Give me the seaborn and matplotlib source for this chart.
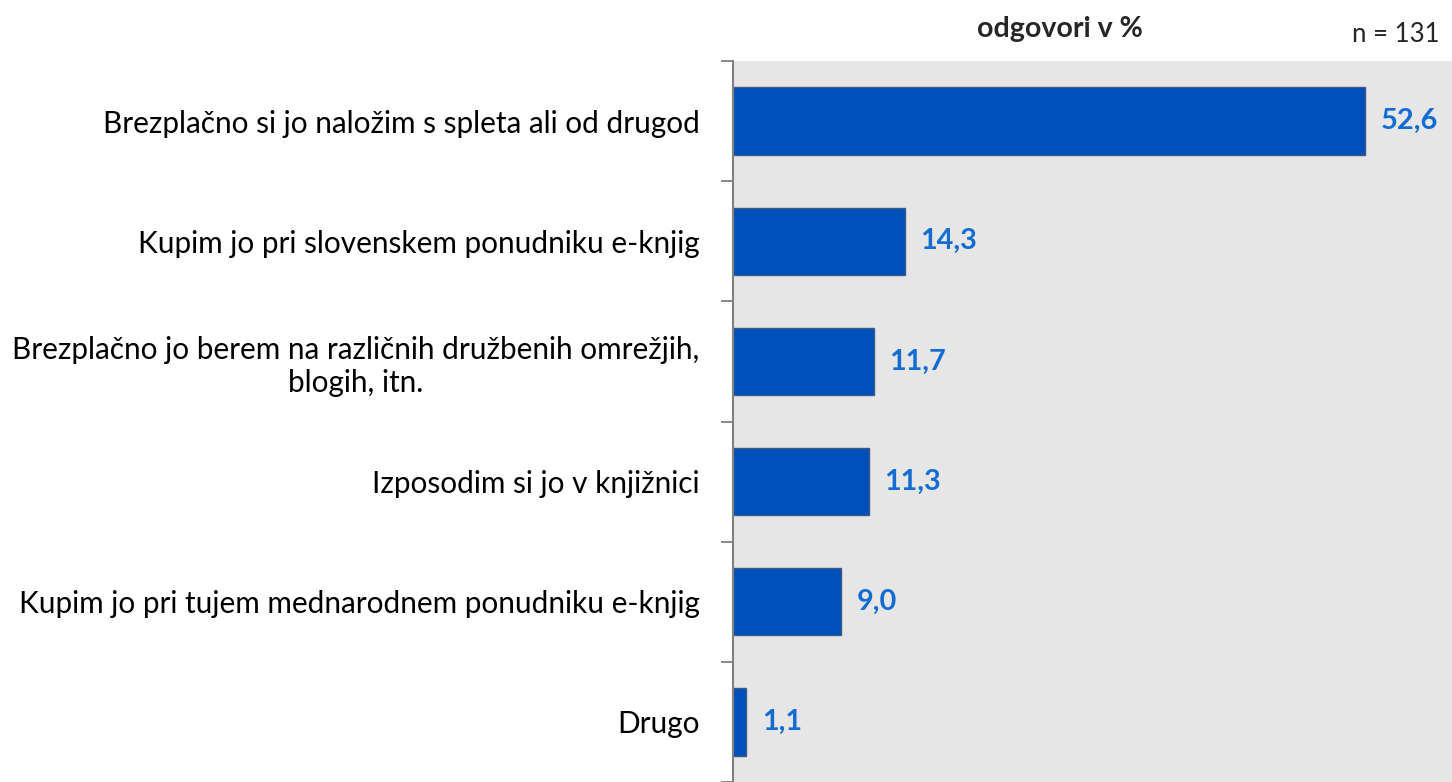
import matplotlib
matplotlib.use('Agg')
import matplotlib.pyplot as plt
import seaborn as sns
import pandas as pd
from matplotlib.ticker import FixedLocator

categories = [
    'Brezplačno si jo naložim s spleta ali od drugod',
    'Kupim jo pri slovenskem ponudniku e-knjig',
    'Brezplačno jo berem na različnih družbenih omrežjih,\nblogih, itn.',
    'Izposodim si jo v knjižnici',
    'Kupim jo pri tujem mednarodnem ponudniku e-knjig',
    'Drugo',
]
values = [52.6, 14.3, 11.7, 11.3, 9.0, 1.1]
value_labels = ['52,6', '14,3', '11,7', '11,3', '9,0', '1,1']

df = pd.DataFrame({'odgovor': categories, 'delez': values})

sns.set_theme(style='white')
plt.rcParams['font.family'] = ['Lato', 'DejaVu Sans']

fig = plt.figure(figsize=(14.52, 7.82), dpi=100)
ax = fig.add_axes([733 / 1452, 0.0, 1 - 733 / 1452, 1 - 61 / 782])
ax.set_facecolor('#E6E6E6')

sns.barplot(data=df, x='delez', y='odgovor', orient='h', color='#0050BB',
            edgecolor='#3D5A85', linewidth=1.0, width=0.56, saturation=1, ax=ax)

ax.set_xlim(0, 59.8)
ax.set_ylim(len(categories) - 0.5, -0.5)
ax.set_xlabel('')
ax.set_ylabel('')
ax.set_xticks([])

for i, (v, lab) in enumerate(zip(values, value_labels)):
    ax.text(v + 1.3, i, lab, va='center', ha='left', fontsize=20.8,
            fontweight='bold', color='#126CD2')

# category labels
ax.tick_params(axis='y', which='major', length=0, pad=24, labelsize=21.4,
               labelcolor='black')
for t in ax.get_yticklabels():
    t.set_multialignment('center')

# ticks at category boundaries
ax.yaxis.set_minor_locator(FixedLocator([i - 0.5 for i in range(len(categories) + 1)]))
ax.tick_params(axis='y', which='minor', length=9, width=1.3, color='#808080',
               direction='out', left=True)

for s in ['top', 'right', 'bottom']:
    ax.spines[s].set_visible(False)
ax.spines['left'].set_color('#808080')
ax.spines['left'].set_linewidth(1.5)

fig.text(1060 / 1452, 1 - 29 / 782, 'odgovori v %', ha='center', va='center',
         fontsize=20.5, fontweight='bold')
fig.text(1440 / 1452, 1 - 34 / 782, 'n = 131', ha='right', va='center',
         fontsize=18.5)

fig.savefig('out.png', dpi=100)
